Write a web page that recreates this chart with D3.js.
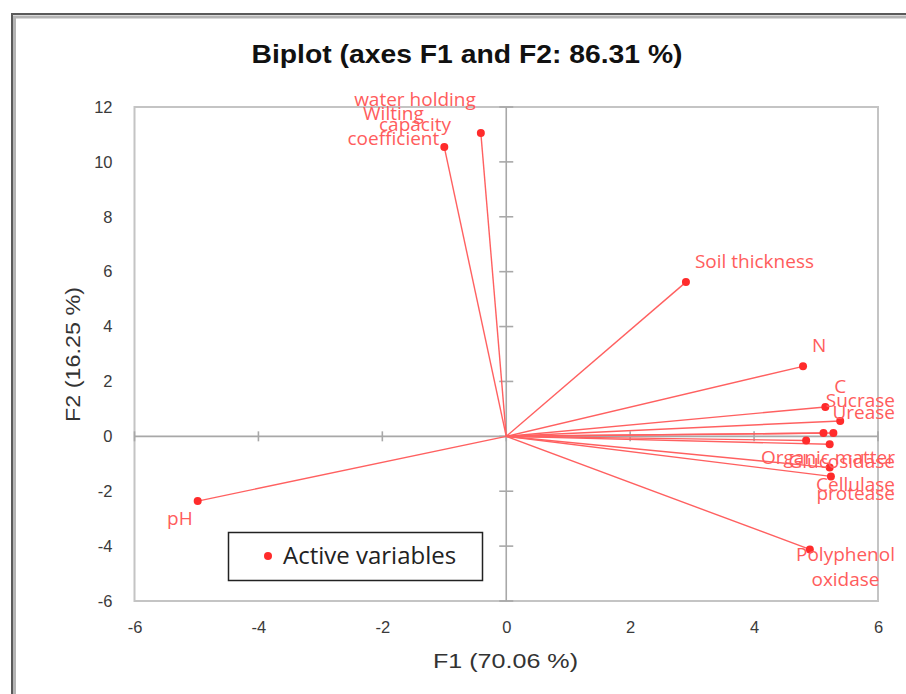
<!DOCTYPE html>
<html>
<head>
<meta charset="utf-8">
<script src="https://cdn.jsdelivr.net/npm/d3@7"></script>
<style>
  body { margin: 0; background: #fff; }
  svg { display: block; }
  .tick-label text { font-family: "Liberation Sans", Arial, sans-serif; font-size: 16.5px; fill: #3a3a3a; }
  .var-label { font-family: "Open Sans", sans-serif; font-size: 19px; fill: #ff5c5c; }
</style>
</head>
<body>
<div id="chart"></div>
<script>
// Variables (loadings on F1 / F2)
var varNames = ["pH", "Wilting coefficient", "water holding capacity", "Soil thickness", "N",
                "C", "Sucrase", "Urease", "", "Organic matter", "Glucosidase", "Cellulase",
                "protease", "Polyphenol oxidase"];
var f1Values = [-4.98, -1.00, -0.41, 2.90, 4.79, 5.15, 5.39, 5.28, 5.12, 4.84, 5.22, 5.22, 5.24, 4.90];
var f2Values = [-2.36, 10.54, 11.05, 5.62, 2.55, 1.07, 0.56, 0.12, 0.12, -0.15, -0.29, -1.14, -1.46, -4.12];
var xTicks = [-6, -4, -2, 0, 2, 4, 6];
var yTicks = [-6, -4, -2, 0, 2, 4, 6, 8, 10, 12];

// label placement: [vertical, horizontal]
var labelSide = [["below", "left"], ["above", "left"], ["above", "left"], ["above", "right"], ["above", "right"],
                 ["above", "right"], ["above", "right"], ["above", "right"], ["above", "right"], ["below", "right"],
                 ["below", "right"], ["below", "right"], ["below", "right"], ["below", "right"]];

var data = varNames.map(function(n, i) {
    return {name: n, f1: f1Values[i], f2: f2Values[i], side: labelSide[i]};
});

var width = 906, height = 694;
var svg = d3.select("#chart").append("svg")
    .attr("width", width)
    .attr("height", height);

// outer frame
svg.append("rect")
    .attr("x", 12).attr("y", 14)
    .attr("width", 920).attr("height", 720)
    .attr("fill", "none").attr("stroke", "#5a5a5a").attr("stroke-width", 2);
svg.append("rect")
    .attr("x", 14.5).attr("y", 17)
    .attr("width", 920).attr("height", 720)
    .attr("fill", "none").attr("stroke", "#b4b4b4").attr("stroke-width", 3);

var x = d3.scaleLinear().domain([-6, 6]).range([134.5, 878]);
var y = d3.scaleLinear().domain([-6, 12]).range([601, 107]);

// title (the original is stretched sideways, so fit its width)
svg.append("text")
    .attr("x", 467).attr("y", 63)
    .attr("text-anchor", "middle")
    .attr("textLength", 431).attr("lengthAdjust", "spacingAndGlyphs")
    .style("font-family", "Liberation Sans, Arial, sans-serif")
    .style("font-size", "25px").style("font-weight", "bold").style("fill", "#111")
    .text("Biplot (axes F1 and F2: 86.31 %)");

// plot border
svg.append("rect")
    .attr("x", x(-6)).attr("y", y(12))
    .attr("width", x(6) - x(-6)).attr("height", y(-6) - y(12))
    .attr("fill", "none").attr("stroke", "#c4c4c4").attr("stroke-width", 2);

// tick labels on the outside
var fmt = function(d) { return String(d); };
var xAxis = d3.axisBottom(x).tickValues(xTicks).tickSize(0).tickPadding(20).tickFormat(fmt);
var yAxis = d3.axisLeft(y).tickValues(yTicks).tickSize(0).tickPadding(22).tickFormat(fmt);

svg.append("g").attr("class", "tick-label")
    .attr("transform", "translate(0," + y(-6) + ")")
    .call(xAxis)
    .call(function(g) { g.select(".domain").remove(); });
svg.append("g").attr("class", "tick-label")
    .attr("transform", "translate(" + x(-6) + ",0)")
    .call(yAxis)
    .call(function(g) { g.select(".domain").remove(); });
svg.selectAll(".tick-label text").attr("font-family", null).attr("font-size", null);

// zero axes with cross ticks
var zero = svg.append("g").attr("stroke", "#a8a8a8").attr("stroke-width", 1.6);
zero.append("line").attr("x1", x(-6)).attr("x2", x(6)).attr("y1", y(0)).attr("y2", y(0));
zero.append("line").attr("x1", x(0)).attr("x2", x(0)).attr("y1", y(-6)).attr("y2", y(12));
zero.selectAll(".yt").data(yTicks).enter().append("line")
    .attr("x1", x(0) - 7).attr("x2", x(0) + 7)
    .attr("y1", function(d) { return y(d); }).attr("y2", function(d) { return y(d); });
zero.selectAll(".xt").data(xTicks).enter().append("line")
    .attr("y1", y(0) - 5).attr("y2", y(0) + 5)
    .attr("x1", function(d) { return x(d); }).attr("x2", function(d) { return x(d); });

// axis titles
svg.append("text")
    .attr("x", 505.5).attr("y", 668)
    .attr("text-anchor", "middle")
    .attr("textLength", 145).attr("lengthAdjust", "spacingAndGlyphs")
    .style("font-family", "Liberation Sans, Arial, sans-serif").style("font-size", "21px").style("fill", "#333")
    .text("F1 (70.06 %)");
svg.append("text")
    .attr("transform", "translate(80,354.5) rotate(-90)")
    .attr("text-anchor", "middle")
    .attr("textLength", 135).attr("lengthAdjust", "spacingAndGlyphs")
    .style("font-family", "Liberation Sans, Arial, sans-serif").style("font-size", "21px").style("fill", "#333")
    .text("F2 (16.25 %)");

// vectors
svg.append("g").selectAll("line")
    .data(data).enter().append("line")
    .attr("x1", x(0)).attr("y1", y(0))
    .attr("x2", function(d) { return x(d.f1); })
    .attr("y2", function(d) { return y(d.f2); })
    .attr("stroke", "#ff6060").attr("stroke-width", 1.4);

svg.append("g").selectAll("circle")
    .data(data).enter().append("circle")
    .attr("cx", function(d) { return x(d.f1); })
    .attr("cy", function(d) { return y(d.f2); })
    .attr("r", 4)
    .attr("fill", "#ff2b2b");

// wrap long names into lines
function wrap(name) {
    var words = name.split(" "), lines = [], cur = "";
    words.forEach(function(w) {
        if (cur && (cur + " " + w).length > 15) { lines.push(cur); cur = w; }
        else cur = cur ? cur + " " + w : w;
    });
    if (cur) lines.push(cur);
    return lines;
}

var lineH = 25, rightLimit = 895;
var labels = svg.append("g").selectAll("text")
    .data(data.filter(function(d) { return d.name; })).enter().append("text")
    .attr("class", "var-label")
    .attr("text-anchor", "middle");

labels.each(function(d) {
    var t = d3.select(this);
    var lines = wrap(d.name);
    lines.forEach(function(l) { t.append("tspan").text(l); });
    var w = d3.max(t.selectAll("tspan").nodes(), function(n) { return n.getComputedTextLength(); });
    var px = x(d.f1), py = y(d.f2);
    var cx = d.side[1] === "right" ? px + 9 + w / 2 : px - 5 - w / 2;
    if (cx + w / 2 > rightLimit) cx = rightLimit - w / 2;
    var cy = d.side[0] === "above" ? py - 21 : py + 17;
    var top = cy - (lines.length - 1) * lineH / 2;
    t.selectAll("tspan")
        .attr("x", cx)
        .attr("y", function(l, i) { return top + i * lineH; })
        .attr("dy", "0.35em");
});

// legend
var legend = svg.append("g");
legend.append("rect")
    .attr("x", 228.5).attr("y", 532.5).attr("width", 254).attr("height", 48)
    .attr("fill", "#fff").attr("stroke", "#222").attr("stroke-width", 1.5);
legend.append("circle").attr("cx", 268).attr("cy", 556).attr("r", 4).attr("fill", "#ff2b2b");
legend.append("text")
    .attr("x", 283).attr("y", 556).attr("dy", "0.35em")
    .style("font-family", "Open Sans, sans-serif").style("font-size", "24px").style("fill", "#222")
    .text("Active variables");
</script>
</body>
</html>
